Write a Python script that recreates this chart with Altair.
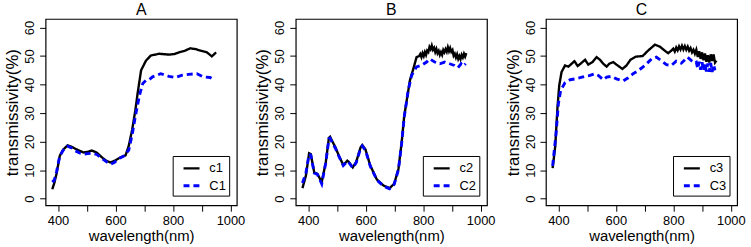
import altair as alt
import pandas as pd

# ---------------- data ----------------
A_c1_wl = [380, 387, 395, 406, 418, 433, 447, 460, 475, 488, 503, 517, 534, 557, 570, 582, 597, 616, 635, 646,
           658, 669, 677, 689, 706, 723, 752, 786, 805, 821, 840, 860, 880, 895, 918, 935, 943, 950]
A_c1_val = [3.3, 5.5, 8.9, 15.0, 17.2, 18.7, 18.2, 17.5, 16.8, 16.2, 16.4, 16.9, 16.2, 14.1, 13.2, 12.7, 13.3, 14.4, 15.2, 18.5,
            24.2, 31.0, 37.0, 45.0, 48.4, 50.2, 50.8, 50.5, 50.7, 51.3, 51.8, 52.7, 52.4, 51.9, 51.3, 49.9, 50.6, 51.3]
A_C1_wl = [380, 387, 395, 406, 418, 433, 447, 460, 475, 488, 503, 517, 534, 557, 570, 583, 597, 616, 630, 646,
           658, 669, 684, 695, 706, 718, 729, 757, 786, 809, 832, 855, 883, 906, 929, 946]
A_C1_val = [5.8, 6.5, 9.5, 15.0, 17.0, 18.4, 17.8, 16.8, 16.0, 15.6, 15.8, 15.9, 15.5, 13.8, 12.8, 12.1, 12.8, 14.3, 15.0, 17.0,
            22.5, 28.9, 36.5, 40.4, 41.5, 41.8, 42.7, 43.8, 42.9, 42.5, 43.3, 43.6, 43.8, 42.7, 42.5, 41.5]

B_c2_wl = [380, 392, 403, 409, 421, 432, 447, 461, 472, 476, 495, 507, 522, 536, 541, 555, 567, 582, 588, 599,
           616, 639, 662, 683, 699, 714, 725, 734, 743, 754, 766, 777, 786,
           790, 794, 798, 802, 806, 810, 814, 818, 822, 826, 830, 834, 838, 842, 846, 850, 854, 858, 862, 866,
           870, 874, 878, 882, 886, 890, 894, 898, 902, 906, 910, 914, 918, 922, 926, 930, 934, 938, 942, 946, 950]
B_c2_val = [3.7, 8.1, 15.9, 15.6, 9.2, 8.7, 5.8, 12.7, 21.3, 21.7, 17.9, 15.0, 11.8, 13.3, 12.9, 11.0, 12.9, 17.9, 18.8, 17.3,
            11.6, 6.7, 4.6, 3.7, 5.2, 10.4, 19.6, 28.9, 34.6, 41.5, 45.6, 49.6, 50.0,
            50.7, 49.6, 51.0, 50.0, 51.4, 50.4, 51.9, 51.4, 53.2, 52.4, 53.7, 52.2, 52.9, 51.4, 52.5, 51.0, 51.8, 50.4, 51.4, 50.4,
            52.1, 51.3, 52.4, 51.5, 53.1, 51.7, 52.8, 51.5, 52.1, 50.1, 50.8, 49.5, 50.6, 49.0, 50.0, 48.9, 50.4, 49.5, 50.8, 49.8, 51.0]
B_C2_wl = [380, 392, 403, 409, 421, 432, 447, 461, 472, 476, 495, 507, 522, 536, 541, 555, 567, 582, 588, 599,
           616, 639, 662, 683, 699, 714, 725, 734, 748, 760, 777, 794, 812, 823, 840, 858, 875, 892, 909, 921, 932, 940, 948]
B_C2_val = [5.5, 9.0, 15.6, 15.3, 9.0, 8.5, 5.2, 12.5, 21.0, 21.2, 17.6, 14.8, 11.6, 13.1, 12.7, 10.8, 12.6, 17.6, 18.5, 17.0,
            11.4, 6.5, 4.4, 3.5, 5.0, 10.2, 19.2, 28.5, 38.0, 43.3, 46.2, 46.7, 47.9, 49.0, 47.9, 47.3, 47.9, 47.3, 46.7, 45.9, 47.3, 46.5, 47.3]

C_c3_wl = [380, 389, 397, 403, 411, 423, 435, 446, 456, 467, 477, 493, 504, 519, 533, 545, 556, 568, 577, 591,
           602, 623, 637, 651, 670, 693, 712, 736, 753, 770, 782, 793,
           800, 805, 810, 815, 820, 825, 830, 835, 840, 845, 850, 855, 860, 865, 870, 875,
           880, 885, 890, 895, 900, 905, 910, 915, 920, 925, 930, 935, 940, 945, 950]
C_c3_val = [10.7, 18.3, 32.2, 39.7, 44.4, 46.7, 46.3, 47.3, 48.2, 46.5, 47.3, 48.7, 47.0, 47.9, 49.6, 48.7, 47.3, 46.3, 47.3, 47.9,
            47.0, 45.5, 46.7, 48.7, 49.8, 50.0, 51.9, 54.0, 53.3, 51.9, 51.0, 51.9,
            52.6, 51.6, 53.0, 52.0, 53.4, 52.3, 53.6, 52.3, 53.5, 52.2, 53.3, 51.9, 52.8, 51.3, 52.2, 50.8,
            52.2, 49.7, 51.7, 49.0, 51.3, 48.5, 50.9, 48.0, 50.3, 47.7, 50.6, 48.3, 50.6, 47.7, 48.4]
C_C3_wl = [380, 392, 400, 408, 423, 441, 458, 475, 493, 510, 527, 539, 556, 568, 585, 602, 626, 643, 660, 678,
           701, 724, 741, 758, 776, 793, 810, 828, 849, 863, 875,
           880, 885, 890, 895, 900, 905, 910, 915, 920, 925, 930, 935, 940, 945]
C_C3_val = [11.5, 22.9, 33.3, 38.0, 40.6, 41.7, 42.0, 42.4, 42.9, 43.2, 43.8, 43.2, 41.7, 42.6, 42.9, 42.0, 41.3, 42.4, 43.8, 44.9,
            46.7, 49.0, 49.6, 48.4, 47.0, 46.7, 48.2, 47.5, 49.6, 48.4, 47.5,
            47.8, 45.6, 48.0, 45.2, 47.8, 44.8, 47.5, 44.6, 47.4, 44.5, 47.6, 44.4, 47.0, 45.0]

panels = [
    ("A", [("c1", A_c1_wl, A_c1_val), ("C1", A_C1_wl, A_C1_val)]),
    ("B", [("c2", B_c2_wl, B_c2_val), ("C2", B_C2_wl, B_C2_val)]),
    ("C", [("c3", C_c3_wl, C_c3_val), ("C3", C_C3_wl, C_C3_val)]),
]

FONT = "Liberation Sans"
PW, PH = 193, 188
XDOM = [356.6, 1022]
YDOM = [-2.3, 63]


def panel(title, series):
    rows = []
    order = 0
    for name, wl, val in series:
        for w, v in zip(wl, val):
            rows.append({"wl": w, "val": v, "series": name, "ord": order})
            order += 1
    df = pd.DataFrame(rows)
    names = [s[0] for s in series]
    legend = alt.Legend(
        title=None, orient="none", legendX=128.3, legendY=138.3,
        strokeColor="black", fillColor="white", padding=3,
        symbolType="stroke", symbolSize=260, symbolStrokeWidth=2,
        labelFont=FONT, labelFontSize=13, labelColor="black",
        labelExpr="datum.label + '  '",
        rowPadding=0, labelOffset=8, symbolOffset=6,
    )
    ch = alt.Chart(df).mark_line(interpolate="linear").encode(
        x=alt.X("wl:Q", scale=alt.Scale(domain=XDOM, nice=False, zero=False),
                axis=alt.Axis(title="wavelength(nm)", values=[400, 500, 600, 700, 800, 900, 1000],
                              labelExpr="datum.value % 200 == 0 ? datum.label : ''",
                              format="d")),
        y=alt.Y("val:Q", scale=alt.Scale(domain=YDOM, nice=False, zero=False),
                axis=alt.Axis(title="transmissivity(%)", values=[0, 10, 20, 30, 40, 50, 60],
                              labelAngle=-90, labelAlign="center", labelBaseline="bottom")),
        color=alt.Color("series:N", scale=alt.Scale(domain=names, range=["black", "#0000ff"]), legend=legend),
        strokeDash=alt.StrokeDash("series:N", scale=alt.Scale(domain=names, range=[[1, 0], [6, 4]]), legend=legend),
        strokeWidth=alt.StrokeWidth("series:N", scale=alt.Scale(domain=names, range=[2.4, 2.9]), legend=None),
        order="ord:Q",
        detail="series:N",
    ).properties(
        width=PW, height=PH,
        title=alt.TitleParams(title, font=FONT, fontSize=16, fontWeight="normal", color="black", offset=1),
    )
    return ch


chart = alt.hconcat(*[panel(t, s) for t, s in panels], spacing=59.5, bounds="flush").resolve_scale(
    color="independent", strokeDash="independent", strokeWidth="independent"
).resolve_legend(color="independent", strokeDash="independent").configure_view(
    stroke="black", strokeWidth=1.2
).configure_axis(
    domain=False, grid=False, ticks=True, tickColor="black", tickSize=6, tickWidth=1,
    labelFont=FONT, labelFontSize=13, labelColor="black", labelPadding=3,
    titleFont=FONT, titleFontWeight="normal", titleColor="black",
).configure_axisX(titleFontSize=15, titlePadding=2, labelFlush=False, labelOverlap=False).configure_axisY(
    titleFontSize=17, titlePadding=2
).properties(
    padding={"left": 3, "top": 0, "right": 5, "bottom": 0},
    background="white",
)

chart.save("out.html", embed_options={"renderer": "svg", "actions": False})
